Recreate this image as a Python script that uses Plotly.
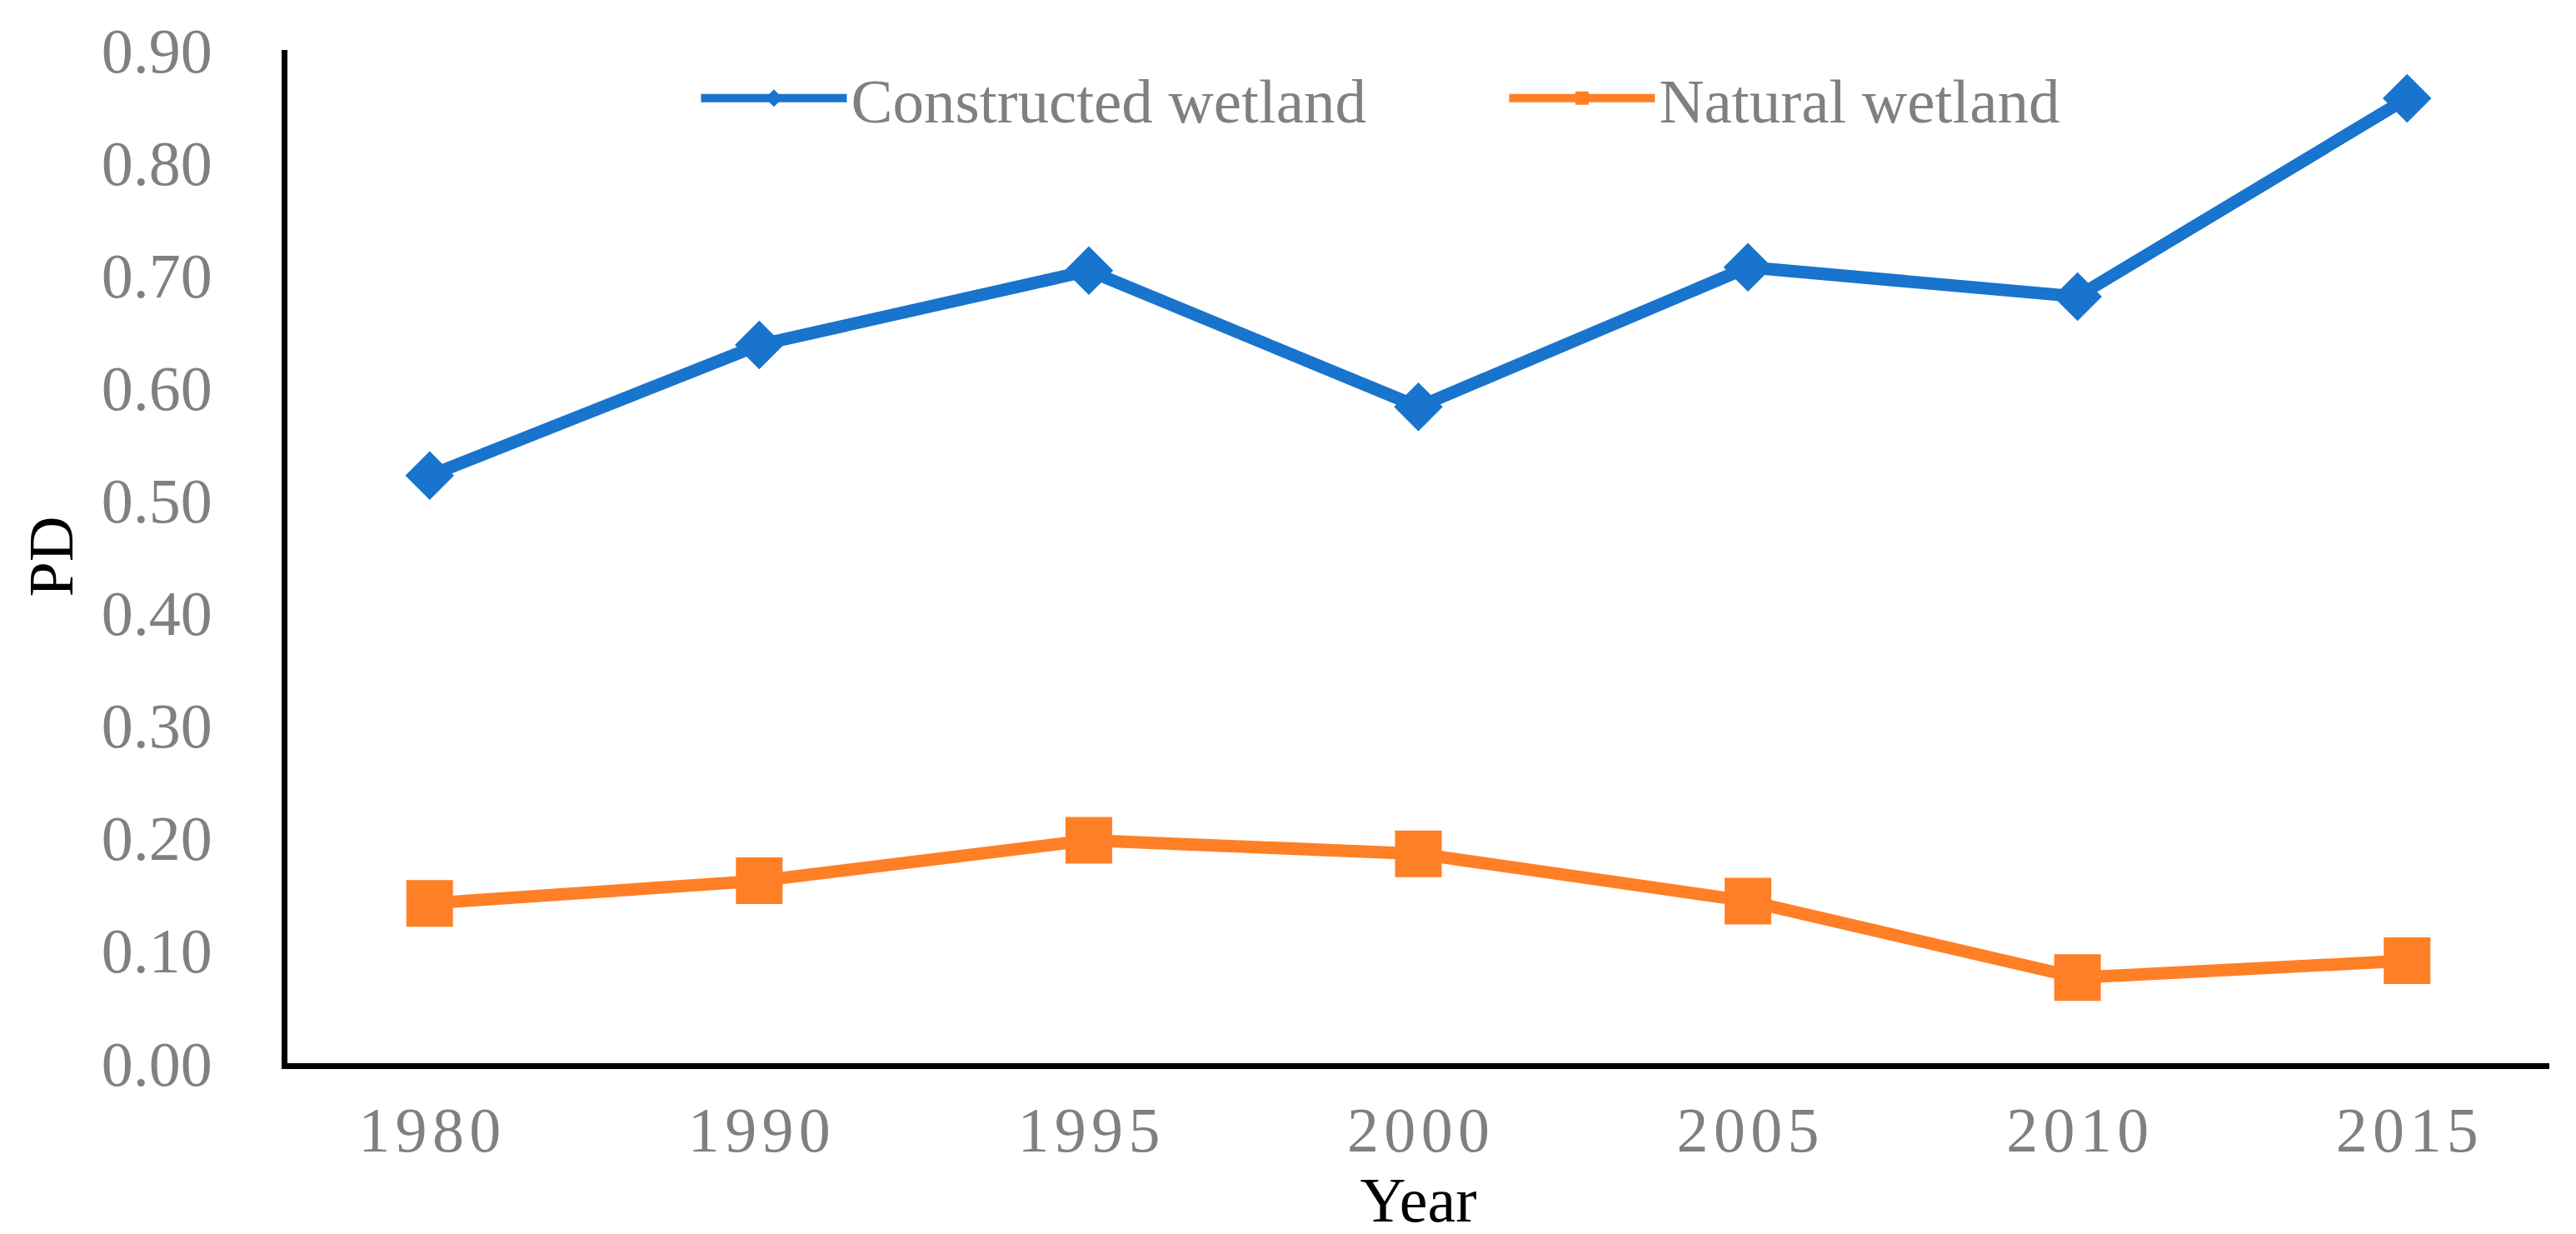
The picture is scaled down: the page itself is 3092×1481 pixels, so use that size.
import plotly.graph_objects as go

years = ["1980", "1990", "1995", "2000", "2005", "2010", "2015"]
year_ticktext = ["1\u200a9\u200a8\u200a0", "1\u200a9\u200a9\u200a0", "1\u200a9\u200a9\u200a5",
                 "2\u200a0\u200a0\u200a0", "2\u200a0\u200a0\u200a5", "2\u200a0\u200a1\u200a0",
                 "2\u200a0\u200a1\u200a5"]
constructed = [0.522, 0.638, 0.704, 0.583, 0.707, 0.681, 0.857]
natural = [0.142, 0.162, 0.198, 0.186, 0.144, 0.076, 0.091]
y_ticks = [0.0, 0.1, 0.2, 0.3, 0.4, 0.5, 0.6, 0.7, 0.8, 0.9]

BLUE = "#1874CD"
ORANGE = "#FF7F27"
GRAY = "#808080"
FONT = "Liberation Serif"

fig = go.Figure()
fig.add_trace(go.Scatter(
    x=years, y=constructed, name="Constructed wetland", mode="lines+markers",
    line=dict(color=BLUE, width=15),
    marker=dict(symbol="diamond", size=45, color=BLUE),
))
fig.add_trace(go.Scatter(
    x=years, y=natural, name="Natural wetland", mode="lines+markers",
    line=dict(color=ORANGE, width=15),
    marker=dict(symbol="square", size=56, color=ORANGE),
))

fig.update_layout(
    width=3092, height=1481,
    margin=dict(l=337, r=40, t=52, b=213, autoexpand=False),
    paper_bgcolor="white", plot_bgcolor="white",
    font=dict(family=FONT, size=76, color=GRAY),
    showlegend=True,
    legend=dict(
        orientation="h", x=0.181, y=0.9523, xanchor="left", yanchor="middle",
        font=dict(family=FONT, size=75, color=GRAY),
        itemwidth=175, bgcolor="rgba(0,0,0,0)",
        entrywidth=780, entrywidthmode="pixels",
    ),
)
fig.update_xaxes(
    type="category", tickmode="array", tickvals=years, ticktext=year_ticktext,
    showline=True, linecolor="black", linewidth=7, mirror=False,
    showgrid=False, zeroline=False, ticks="",
    tickfont=dict(family=FONT, size=76, color=GRAY),
    ticklabelstandoff=8,
    title=dict(text="Year", font=dict(family=FONT, size=76, color="black"), standoff=0),
    automargin=False,
)
fig.update_yaxes(
    range=[0, 0.9], tickmode="array", tickvals=y_ticks, tickformat=".2f",
    showline=True, linecolor="black", linewidth=7,
    showgrid=False, zeroline=False, ticks="",
    tickfont=dict(family=FONT, size=76, color=GRAY),
    ticklabelstandoff=68,
    title=dict(text="PD", font=dict(family=FONT, size=76, color="black"), standoff=12),
    automargin=False,
)

fig.write_html("out.html")
